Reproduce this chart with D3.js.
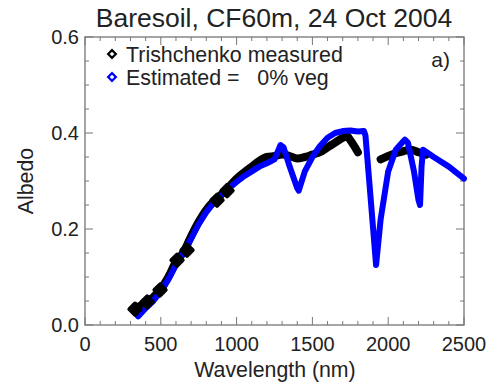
<!DOCTYPE html>
<html>
<head>
<meta charset="utf-8">
<script src="https://cdn.jsdelivr.net/npm/d3@7"></script>
<style>
  body { margin: 0; background: #fff; }
  text { font-family: "Liberation Sans", Arial, sans-serif; fill: #222; }
</style>
</head>
<body>
<div class="chart-container"></div>
<script>
// measured albedo (black), null = water absorption gap
var measWl  = [330, 400, 450, 500, 550, 600, 650, 700, 750, 800, 850, 900, 950, 1000, 1050, 1100, 1150, 1200, 1250, 1300, 1350, 1400, 1450, 1500, 1550, 1600, 1650, 1700, 1730, 1750, 1800, 1875, 1950, 2000, 2050, 2100, 2150, 2200, 2250]
var measAlb = [0.033, 0.047, 0.058, 0.075, 0.10, 0.132, 0.152, 0.185, 0.215, 0.24, 0.258, 0.272, 0.288, 0.305, 0.318, 0.33, 0.342, 0.35, 0.352, 0.355, 0.352, 0.347, 0.35, 0.355, 0.36, 0.37, 0.38, 0.39, 0.393, 0.385, 0.36, null, 0.345, 0.352, 0.358, 0.362, 0.365, 0.36, 0.355]

// sparse visible bands drawn as big symbols
var bandWl  = [330, 410, 495, 607, 673, 871, 937]
var bandAlb = [0.033, 0.048, 0.073, 0.135, 0.156, 0.26, 0.28]

// estimated albedo, 0% vegetation (blue)
var estWl  = [350, 400, 450, 500, 550, 600, 650, 700, 750, 800, 850, 900, 950, 1000, 1050, 1100, 1150, 1200, 1250, 1270, 1290, 1310, 1350, 1400, 1410, 1450, 1500, 1550, 1600, 1650, 1700, 1750, 1800, 1840, 1850, 1880, 1920, 1950, 2000, 2050, 2100, 2110, 2130, 2170, 2200, 2210, 2220, 2230, 2300, 2400, 2500]
var estAlb = [0.018, 0.035, 0.05, 0.07, 0.095, 0.125, 0.15, 0.18, 0.21, 0.235, 0.255, 0.27, 0.285, 0.298, 0.31, 0.32, 0.33, 0.337, 0.345, 0.36, 0.375, 0.37, 0.33, 0.285, 0.28, 0.32, 0.35, 0.373, 0.39, 0.40, 0.404, 0.405, 0.403, 0.404, 0.395, 0.28, 0.125, 0.22, 0.32, 0.365, 0.383, 0.386, 0.38, 0.32, 0.26, 0.25, 0.33, 0.365, 0.35, 0.33, 0.305]

var xTicks = [0, 500, 1000, 1500, 2000, 2500]
var yTicks = [0.0, 0.2, 0.4, 0.6]

var W = 489, H = 383
var pl = 85, pr = 464, pt = 37, pb = 325

svg = d3.select(".chart-container").append("svg").attr("width", W).attr("height", H)

x = d3.scaleLinear().domain([0, 2500]).range([pl, pr])
y = d3.scaleLinear().domain([0, 0.6]).range([pb, pt])

// frame
svg.append("rect").attr("x", pl).attr("y", pt).attr("width", pr - pl).attr("height", pb - pt)
  .attr("fill", "none").attr("stroke", "#888").attr("stroke-width", 1.5)

// ticks on all four sides, inward
function ticksX(pos, dir) {
  var minor = d3.range(0, 2501, 100)
  svg.append("g").selectAll("line").data(minor).enter().append("line")
    .attr("x1", d => x(d)).attr("x2", d => x(d))
    .attr("y1", pos).attr("y2", d => pos + dir * (d % 500 == 0 ? 8 : 4))
    .attr("stroke", "#777").attr("stroke-width", 1)
}
function ticksY(pos, dir) {
  var minor = d3.range(0, 0.6001, 0.05)
  svg.append("g").selectAll("line").data(minor).enter().append("line")
    .attr("y1", d => y(d)).attr("y2", d => y(d))
    .attr("x1", pos).attr("x2", (d, i) => pos + dir * (i % 4 == 0 ? 8 : 4))
    .attr("stroke", "#777").attr("stroke-width", 1)
}
ticksX(pb, -1); ticksX(pt, 1)
ticksY(pl, 1); ticksY(pr, -1)

// tick labels
svg.append("g").selectAll("text").data(xTicks).enter().append("text")
  .attr("x", d => x(d)).attr("y", 351).attr("text-anchor", "middle")
  .attr("font-size", 20).text(d => d)
svg.append("g").selectAll("text").data(yTicks).enter().append("text")
  .attr("x", 79).attr("y", d => y(d) + 7).attr("text-anchor", "end")
  .attr("font-size", 20).text(d => d.toFixed(1))

// axis titles
svg.append("text").attr("x", 275).attr("y", 377).attr("text-anchor", "middle")
  .attr("font-size", 21.3).text("Wavelength (nm)")
svg.append("text").attr("transform", "translate(33,181) rotate(-90)").attr("text-anchor", "middle")
  .attr("font-size", 21.3).text("Albedo")
svg.append("text").attr("x", 274).attr("y", 27).attr("text-anchor", "middle")
  .attr("font-size", 26.5).text("Baresoil, CF60m, 24 Oct 2004")

// measured line
meas = measWl.map((d, i) => ({wl: d, a: measAlb[i]}))
line = d3.line().defined(d => d.a != null).x(d => x(d.wl)).y(d => y(d.a)).curve(d3.curveMonotoneX)
svg.append("path").datum(meas).attr("d", line)
  .attr("fill", "none").attr("stroke", "#000").attr("stroke-width", 8)
  .attr("stroke-linejoin", "round").attr("stroke-linecap", "round")

// estimated line
est = estWl.map((d, i) => ({wl: d, a: estAlb[i]}))
estLine = d3.line().x(d => x(d.wl)).y(d => y(d.a))
svg.append("path").datum(est).attr("d", estLine)
  .attr("fill", "none").attr("stroke", "#0000ff").attr("stroke-width", 6)
  .attr("stroke-linejoin", "round").attr("stroke-linecap", "round")

// measured band symbols on top
var diamond = d3.symbol().type(d3.symbolSquare)
svg.append("g").selectAll("path").data(bandWl).enter().append("path")
  .attr("d", diamond.size(64)())
  .attr("transform", (d, i) => "translate(" + x(d) + "," + y(bandAlb[i]) + ") rotate(45)")
  .attr("fill", "#000").attr("stroke", "#000").attr("stroke-width", 4).attr("stroke-linejoin", "round")

// legend
legend = [{label: "Trishchenko measured", color: "#000"}, {label: "Estimated =   0% veg", color: "#0000ff"}]
lg = svg.append("g").selectAll("g").data(legend).enter().append("g")
  .attr("transform", (d, i) => "translate(112," + (54 + i * 23) + ")")
lg.append("path").attr("d", d3.symbol().type(d3.symbolSquare).size(30)())
  .attr("transform", "rotate(45)")
  .attr("fill", "none").attr("stroke", d => d.color).attr("stroke-width", 2.2)
lg.append("text").attr("x", 14).attr("y", 7.5).attr("font-size", 21.4)
  .style("white-space", "pre").attr("xml:space", "preserve").text(d => d.label)

svg.append("text").attr("x", 450).attr("y", 67).attr("text-anchor", "end")
  .attr("font-size", 21).text("a)")
</script>
</body>
</html>
